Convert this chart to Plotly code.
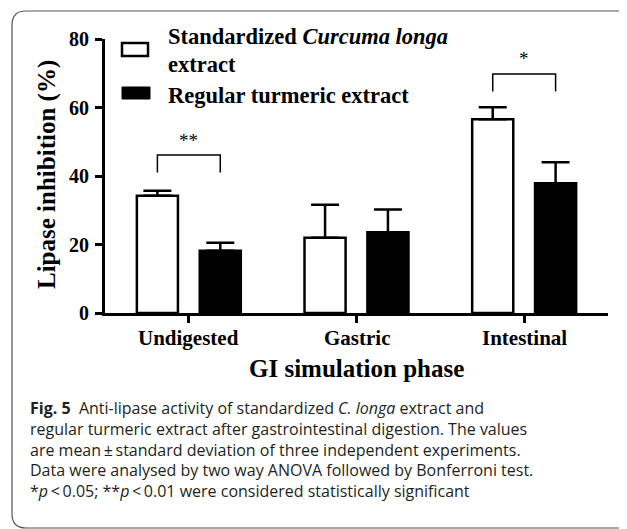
'''
    Bar chart of lipase inhibition for the two extracts across the
    GI simulation phases, with the figure caption underneath.
'''

import plotly.graph_objects as go

phases = ['Undigested', 'Gastric', 'Intestinal']
standardized_mean = [34.2, 22.0, 56.6]
standardized_sd = [1.5, 9.6, 3.5]
regular_mean = [18.2, 23.6, 37.9]
regular_sd = [2.3, 6.6, 6.1]

y_ticks = [0, 20, 40, 60, 80]

sig_phase_index = [0, 2]
sig_labels = ['**', '*']
sig_heights = [46.1, 69.8]

caption_lines = [
    '<b>Fig. 5</b>  Anti-lipase activity of standardized <i>C. longa</i> extract and',
    'regular turmeric extract after gastrointestinal digestion. The values',
    'are mean\u2009\u00b1\u2009standard deviation of three independent experiments.',
    'Data were analysed by two way ANOVA followed by Bonferroni test.',
    '*<i>p</i>\u2009<\u20090.05; **<i>p</i>\u2009<\u20090.01 were considered statistically significant',
]

WIDTH, HEIGHT = 627, 529
OFF = 8  # the page body adds an 8px margin, so everything is laid out 8px up/left
PLOT_X0, PLOT_X1 = 105, 608   # plot area in screen pixels
PLOT_Y0, PLOT_Y1 = 39, 313
PLOT_W = PLOT_X1 - PLOT_X0
PLOT_H = PLOT_Y1 - PLOT_Y0

SERIF = 'Liberation Serif, Times New Roman, serif'
SANS = 'Open Sans, sans-serif'

BAR_W = 0.245
BAR_SHIFT = 0.1875


def px_x(px):
    return (px - PLOT_X0) / PLOT_W


def px_y(py):
    return (PLOT_Y1 - py) / PLOT_H


def rounded_box(x0, y0, x1, y1, r):
    pts = [
        ('M', x0 + r, y0), ('L', x1 - r, y0), ('Q', x1, y0, x1, y0 + r),
        ('L', x1, y1 - r), ('Q', x1, y1, x1 - r, y1), ('L', x0 + r, y1),
        ('Q', x0, y1, x0, y1 - r), ('L', x0, y0 + r), ('Q', x0, y0, x0 + r, y0),
    ]
    out = []
    for p in pts:
        coords = p[1:]
        seg = p[0]
        for i in range(0, len(coords), 2):
            seg += ' %.5f,%.5f' % (px_x(coords[i]), px_y(coords[i + 1]))
        out.append(seg)
    return ' '.join(out) + ' Z'


def label(x, y, text, size, family=SERIF, xref='paper', yref='paper',
          xanchor='center', color='black', **kw):
    return dict(x=x, y=y, xref=xref, yref=yref, text=text, showarrow=False,
                xanchor=xanchor, yanchor='middle',
                font=dict(family=family, size=size, color=color), **kw)


fig = go.Figure()

x_idx = list(range(len(phases)))

fig.add_trace(go.Bar(
    x=x_idx, y=standardized_mean, name='Standardized Curcuma longa extract',
    width=BAR_W, offset=-BAR_SHIFT - BAR_W / 2,
    marker=dict(color='white', line=dict(color='black', width=2.5)),
    error_y=dict(type='data', array=standardized_sd, symmetric=False,
                 arrayminus=[0] * len(phases), color='black', thickness=2.5, width=14),
))
fig.add_trace(go.Bar(
    x=x_idx, y=regular_mean, name='Regular turmeric extract',
    width=BAR_W, offset=BAR_SHIFT - BAR_W / 2,
    marker=dict(color='black', line=dict(color='black', width=2.5)),
    error_y=dict(type='data', array=regular_sd, symmetric=False,
                 arrayminus=[0] * len(phases), color='black', thickness=2.5, width=14),
))

shapes = []
annotations = []

# significance brackets
for idx, txt, h in zip(sig_phase_index, sig_labels, sig_heights):
    xa, xb = idx - BAR_SHIFT, idx + BAR_SHIFT
    low = h - 5.1
    shapes.append(dict(type='path', xref='x', yref='y',
                       path='M %f,%f L %f,%f L %f,%f L %f,%f' % (xa, low, xa, h, xb, h, xb, low),
                       line=dict(color='black', width=1.5)))
    annotations.append(label(idx, h, txt, 19, xref='x', yref='y', yshift=15))

# tick labels placed next to the axes
for idx, name in zip(x_idx, phases):
    annotations.append(label(idx, px_y(338), '<b>%s</b>' % name, 21, xref='x'))
for v in y_ticks:
    annotations.append(label(px_x(91), v, '<b>%d</b>' % v, 20, yref='y', xanchor='right'))

# legend drawn by hand
shapes.append(dict(type='rect', xref='paper', yref='paper',
                   x0=px_x(122), x1=px_x(148), y0=px_y(56), y1=px_y(43),
                   fillcolor='white', line=dict(color='black', width=2.5)))
shapes.append(dict(type='rect', xref='paper', yref='paper',
                   x0=px_x(122), x1=px_x(150), y0=px_y(99), y1=px_y(87),
                   fillcolor='black', line=dict(color='black', width=1)))
legend_text = [('Standardized <i>Curcuma longa</i>', 37), ('extract', 64),
               ('Regular turmeric extract', 95)]
for txt, yc in legend_text:
    annotations.append(label(px_x(166), px_y(yc), '<b>%s</b>' % txt, 22.5, xanchor='left'))

# axis titles
annotations.append(label(px_x(47), px_y(175), '<b>Lipase inhibition (%)</b>', 25, textangle=-90))
annotations.append(label(0.5, px_y(368), '<b>GI simulation phase</b>', 25))

# caption, one block of left-aligned lines
annotations.append(label(px_x(28), px_y(449), '<br>'.join(caption_lines), 16, family=SANS,
                         xanchor='left', color='#231f20', align='left'))

# frame around figure and caption
shapes.append(dict(type='path', xref='paper', yref='paper',
                   path=rounded_box(12, 11, 645, 528, 14),
                   line=dict(color='#555555', width=1.2)))

fig.update_layout(
    width=WIDTH, height=HEIGHT,
    margin=dict(l=PLOT_X0 - OFF, r=WIDTH - (PLOT_X1 - OFF),
                t=PLOT_Y0 - OFF, b=HEIGHT - (PLOT_Y1 - OFF)),
    paper_bgcolor='white', plot_bgcolor='white',
    barmode='overlay', showlegend=False,
    shapes=shapes, annotations=annotations,
    xaxis=dict(range=[-0.5, 2.5], tickvals=x_idx, showticklabels=False,
               showline=True, linecolor='black', linewidth=2.5, ticks='outside',
               ticklen=7, tickwidth=2.5, tickcolor='black', showgrid=False, zeroline=False),
    yaxis=dict(range=[0, 80], tickvals=y_ticks, showticklabels=False,
               showline=True, linecolor='black', linewidth=2.5, ticks='outside',
               ticklen=7, tickwidth=2.5, tickcolor='black', showgrid=False, zeroline=False),
)

fig.write_html('out.html')
